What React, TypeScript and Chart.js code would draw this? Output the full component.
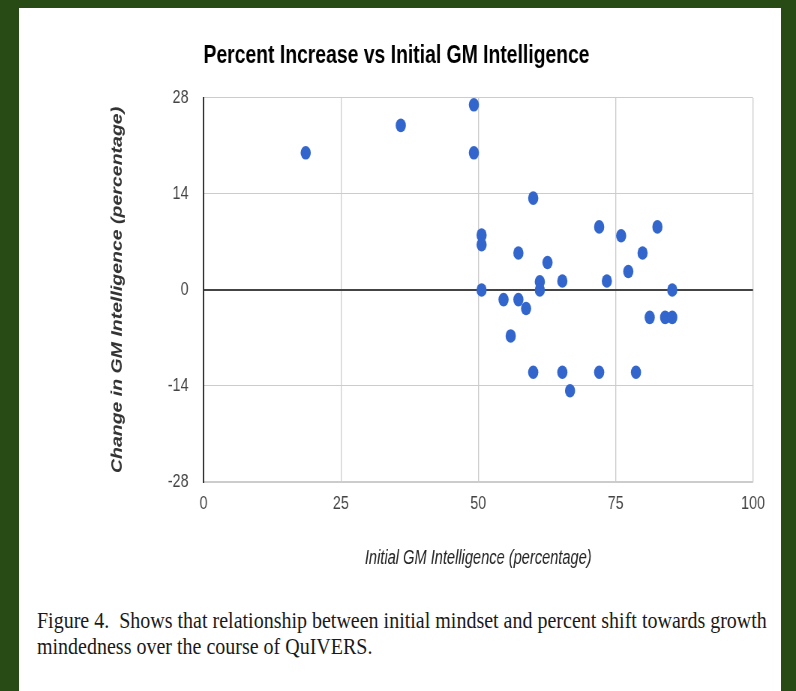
import React, { useEffect, useLayoutEffect, useRef } from "react";
import { Chart, registerables } from "chart.js";

Chart.register(...registerables);

// ---- data ----
const titleText = "Percent Increase vs Initial GM Intelligence";
const xTitleText = "Initial GM Intelligence (percentage)";
const yTitleText = "Change in GM Intelligence (percentage)";
const captionLine1 = "Figure 4.  Shows that relationship between initial mindset and percent shift towards growth";
const captionLine2 = "mindedness over the course of QuIVERS.";

const xTicks = [0, 25, 50, 75, 100];
const yTicks = [-28, -14, 0, 14, 28];

const initialGM = [
  18.6, 35.9, 49.2, 49.2, 60.0, 50.6, 50.6, 50.6, 54.6, 57.3, 57.3, 58.7, 55.9, 60.0, 61.2, 61.2,
  62.6, 65.3, 65.3, 66.7, 72.0, 72.0, 73.4, 76.0, 77.3, 78.7, 79.9, 81.2, 82.6, 84.0, 85.3, 85.3,
];
const changeGM = [
  20, 24, 27, 20, 13.4, 8, 6.6, 0, -1.4, 5.4, -1.4, -2.7, -6.7, -12, 1.2, 0,
  4, 1.3, -12, -14.7, 9.2, -12, 1.3, 7.9, 2.7, -12, 5.4, -4, 9.2, -4, -4, 0,
];

// ---- layout ----
const S = 0.75; // horizontal squeeze of the original figure
const CW = 1020;
const CH = 593;
const FONT = "'Liberation Sans', Arial, Helvetica, sans-serif";
const SERIF = "'Liberation Serif', 'Times New Roman', Times, serif";

export default function App() {
  const canvasRef = useRef<HTMLCanvasElement | null>(null);
  const l1Ref = useRef<HTMLDivElement | null>(null);
  const l2Ref = useRef<HTMLDivElement | null>(null);

  useLayoutEffect(() => {
    const l1 = l1Ref.current;
    const l2 = l2Ref.current;
    if (!l1 || !l2) return;
    const w = l1.scrollWidth;
    const k = w > 0 ? 730 / w : 0.75;
    l1.style.transform = `scaleX(${k})`;
    l2.style.transform = `scaleX(${k})`;
  }, []);

  useEffect(() => {
    const canvas = canvasRef.current;
    if (!canvas) return;
    const points = initialGM.map((x, i) => ({ x, y: changeGM[i] }));
    const chart = new Chart(canvas, {
      type: "scatter",
      data: {
        datasets: [
          {
            data: points,
            backgroundColor: "#3366cc",
            borderWidth: 0,
            pointRadius: 6.8,
            pointHoverRadius: 6.8,
          },
        ],
      },
      options: {
        responsive: false,
        animation: false,
        devicePixelRatio: 1,
        layout: { padding: { left: 0, right: 37.3, top: 0, bottom: 0 } },
        plugins: {
          legend: { display: false },
          tooltip: { enabled: false },
          title: {
            display: true,
            text: titleText,
            align: "start",
            fullSize: false,
            color: "#000",
            font: { family: FONT, size: 25.8, weight: "bold" },
            padding: { top: 33, bottom: 27 },
          },
        },
        scales: {
          x: {
            type: "linear",
            min: 0,
            max: 100,
            afterBuildTicks: (s: any) => {
              s.ticks = xTicks.map((v) => ({ value: v }));
            },
            afterFit: (s: any) => {
              s.height = 118;
            },
            grid: { color: "#cccccc", lineWidth: 1.33, drawTicks: false },
            border: { display: true, color: "#cccccc", width: 1.33 },
            ticks: { padding: 10, color: "#444", font: { family: FONT, size: 19 } },
            title: {
              display: true,
              text: xTitleText,
              color: "#222",
              font: { family: FONT, size: 19.5, style: "italic" },
              padding: { top: 0, bottom: 29.5 },
            },
          },
          y: {
            type: "linear",
            min: -28,
            max: 28,
            afterBuildTicks: (s: any) => {
              s.ticks = yTicks.map((v) => ({ value: v }));
            },
            afterFit: (s: any) => {
              s.width = 250;
            },
            grid: {
              color: (c: any) => (c.tick && c.tick.value === 0 ? "#444" : "#cccccc"),
              lineWidth: (c: any) => (c.tick && c.tick.value === 0 ? 2 : 1),
              drawTicks: false,
            },
            border: { display: true, color: "#333", width: 2 },
            ticks: { padding: 20, color: "#444", font: { family: FONT, size: 19 } },
            title: {
              display: true,
              text: yTitleText,
              color: "#333",
              font: { family: FONT, size: 19.5, style: "italic", weight: "bold" },
              padding: { top: 124, bottom: 0 },
            },
          },
        },
      },
    });
    return () => chart.destroy();
  }, []);

  const captionStyle: React.CSSProperties = {
    position: "absolute",
    left: 37,
    whiteSpace: "pre",
    fontFamily: SERIF,
    fontSize: 24,
    lineHeight: "26px",
    color: "#1a1a1a",
    transformOrigin: "0 0",
  };

  return (
    <div
      style={{
        position: "fixed",
        left: 0,
        top: 0,
        width: 796,
        height: 691,
        background: "#284b15",
        overflow: "hidden",
      }}
    >
      <div
        style={{
          position: "absolute",
          left: 19,
          top: 8,
          width: 762,
          height: 700,
          background: "#ffffff",
        }}
      />
      <div style={{ position: "absolute", left: 16, top: 7, width: CW * S, height: CH }}>
        <canvas
          ref={canvasRef}
          width={CW}
          height={CH}
          style={{
            display: "block",
            width: CW,
            height: CH,
            transform: `scaleX(${S})`,
            transformOrigin: "0 0",
          }}
        />
      </div>
      <div ref={l1Ref} style={{ ...captionStyle, top: 607 }}>
        {captionLine1}
      </div>
      <div ref={l2Ref} style={{ ...captionStyle, top: 633 }}>
        {captionLine2}
      </div>
    </div>
  );
}
